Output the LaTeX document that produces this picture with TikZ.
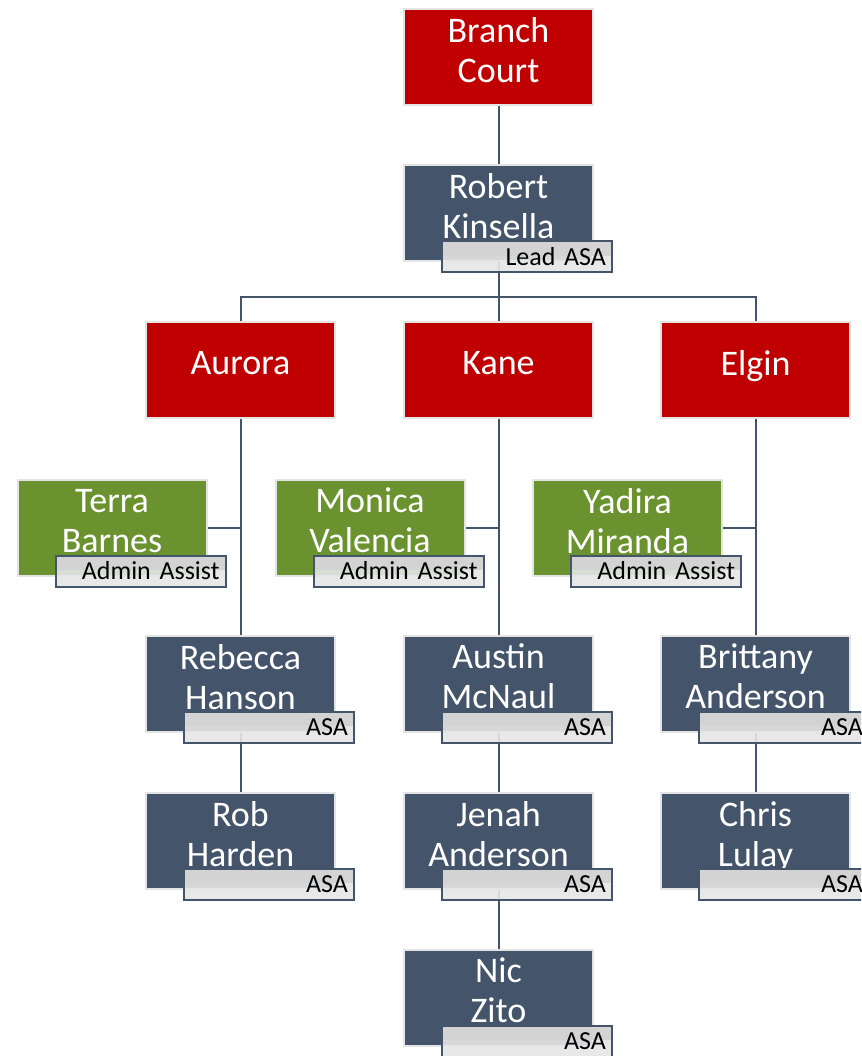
\documentclass[tikz,border=0pt]{standalone}
\usepackage{fontspec}
\setmainfont{Carlito}
\usetikzlibrary{positioning,backgrounds}

\definecolor{courtred}{HTML}{C00000}
\definecolor{staffblue}{HTML}{44546A}
\definecolor{assistgreen}{HTML}{6A9330}
\definecolor{edgegray}{HTML}{E4E4E4}
\definecolor{tagdark}{HTML}{D3D3D3}
\definecolor{taglight}{HTML}{E6E6E6}

\tikzset{
  box/.style={draw=edgegray, line width=2pt, minimum width=189pt, minimum height=96pt,
    inner sep=0pt, align=center, text=white, font=\fontsize{36}{40}\selectfont,
    execute at end node={\rule[-14pt]{0pt}{0pt}}},
  court/.style={box, fill=courtred},
  staff/.style={box, fill=staffblue},
  assist/.style={box, fill=assistgreen},
  tag/.style={draw=staffblue, line width=2pt, fill=taglight, fill opacity=0.9,
    path picture={\fill[tagdark] (path picture bounding box.north west)
      rectangle ([yshift=1pt]path picture bounding box.east);},
    text opacity=1, text width=158pt, align=right, minimum height=31pt,
    inner xsep=6pt, inner ysep=0pt, text=black, font=\fontsize{26}{28}\selectfont,
    anchor=south east},
  link/.style={draw=staffblue, line width=2pt},
}

\begin{document}
\begin{tikzpicture}[x=1pt,y=-1pt]
    \useasboundingbox (0,0) rectangle (861,1056);
    \clip (0,0) rectangle (861,1056);

    % Top of the chart
    \node[court] (bc) at (498.5,57) {Branch\\Court};
    \node[staff] (rk) at (498.5,213.5) {Robert\\Kinsella};

    % Offices
    \node[court] (aurora) at (240.5,370) {Aurora};
    \node[court] (kane) at (498.5,370) {Kane};
    \node[court] (elgin) at (755.5,370) {Elgin};

    % Admin assistants
    \node[assist] (tb) at (112,527.5) {Terra\\Barnes};
    \node[assist] (mv) at (370,527.5) {Monica\\Valencia};
    \node[assist] (ym) at (627.5,527.5) {Yadira\\Miranda};

    % Aurora column
    \node[staff] (rh) at (240.5,683.5) {Rebecca\\Hanson};
    \node[staff] (rob) at (240.5,840.5) {Rob\\Harden};

    % Kane column
    \node[staff] (am) at (498.5,683.5) {Austin\\McNaul};
    \node[staff] (ja) at (498.5,840.5) {Jenah\\Anderson};
    \node[staff] (nz) at (498.5,997.5) {Nic\\Zito};

    % Elgin column
    \node[staff] (ba) at (755.5,683.5) {Brittany\\Anderson};
    \node[staff] (cl) at (755.5,840.5) {Chris\\Lulay};

    % Title tags
    \node[tag] (rkT) at ([shift={(19,11)}]rk.south east) {Lead ASA};
    \foreach \who in {tb,mv,ym}
        \node[tag] (\who T) at ([shift={(19,11)}]\who.south east) {Admin Assist};
    \foreach \who in {rh,rob,am,ja,nz,ba,cl}
        \node[tag] (\who T) at ([shift={(19,11)}]\who.south east) {ASA};

    % Connectors
    \begin{pgfonlayer}{background}
        \draw[link] (bc.south) -- (rk.north);
        \draw[link] (rk.south) -- (kane.north);
        \draw[link] (aurora.north) -- ++(0,-24) -| (elgin.north);
        \draw[link] (aurora.south) -- (rh.north);
        \draw[link] (rh.south) -- (rob.north);
        \draw[link] (kane.south) -- (am.north);
        \draw[link] (am.south) -- (ja.north);
        \draw[link] (ja.south) -- (nz.north);
        \draw[link] (elgin.south) -- (ba.north);
        \draw[link] (ba.south) -- (cl.north);
        \draw[link] (tb.east) -- (tb.east -| aurora.south);
        \draw[link] (mv.east) -- (mv.east -| kane.south);
        \draw[link] (ym.east) -- (ym.east -| elgin.south);
    \end{pgfonlayer}
\end{tikzpicture}
\end{document}
